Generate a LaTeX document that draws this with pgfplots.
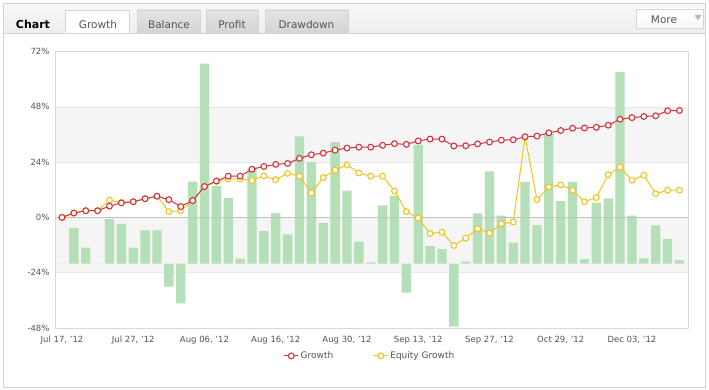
\documentclass[border=0pt]{standalone}
\usepackage{pgfplots}
\pgfplotsset{compat=1.18}
\usepackage{pgfplotstable}
\usepackage{fontspec}
\setmainfont{DejaVu Sans}
\definecolor{barc}{RGB}{181,223,182}
\definecolor{redc}{RGB}{214,48,58}
\definecolor{yelc}{RGB}{240,198,30}
\definecolor{bandc}{RGB}{245,245,245}
\definecolor{gridc}{RGB}{232,232,232}
\definecolor{zeroc}{RGB}{192,192,192}
\definecolor{bordc}{RGB}{218,218,218}
\definecolor{txtc}{RGB}{85,85,85}
\definecolor{framec}{RGB}{212,212,212}
\definecolor{hdrtop}{RGB}{248,248,248}
\definecolor{hdrbot}{RGB}{238,238,238}
\definecolor{tabtop}{RGB}{228,228,228}
\definecolor{tabbot}{RGB}{212,212,212}

\pgfplotstableread{
i bar growth equity
0 0 0 0
1 15.6 1.9 1.9
2 7.0 2.9 2.9
3 0 2.9 2.9
4 19.3 4.9 7.5
5 17.3 6.3 6.5
6 7.0 6.8 6.8
7 14.5 8.1 8.1
8 14.5 9.2 9.2
9 -9.9 7.7 2.5
10 -17.2 4.7 2.9
11 35.6 7.3 7.3
12 86.8 13.4 13.4
13 33.7 15.8 15.6
14 28.5 17.9 16.7
15 2.2 17.9 16.7
16 41.0 20.9 16.0
17 14.1 22.1 18.0
18 22.0 23.0 16.4
19 12.7 23.4 19.1
20 55.3 25.6 17.9
21 44.1 27.2 10.6
22 17.7 27.9 17.3
23 52.8 29.2 20.5
24 31.7 30.1 22.8
25 9.6 30.5 19.3
26 0.6 30.5 17.9
27 25.3 31.3 17.9
28 29.5 32.0 11.5
29 -12.5 31.7 2.5
30 51.6 33.2 -0.3
31 7.6 34.0 -7.0
32 6.3 34.0 -6.4
33 -27.3 31.0 -12.2
34 0.9 31.1 -9.0
35 21.8 31.9 -4.9
36 40.1 32.7 -6.8
37 20.9 33.5 -2.8
38 9.2 33.7 -2.0
39 35.5 35.0 35.0
40 16.7 35.3 7.7
41 56.4 36.7 13.2
42 27.2 37.7 14.1
43 35.5 38.7 11.8
44 2.0 38.8 6.8
45 26.5 39.1 8.6
46 28.4 40.0 18.5
47 83.1 42.6 21.8
48 20.9 43.3 16.1
49 2.3 43.8 18.3
50 16.6 44.1 10.3
51 10.8 46.3 11.8
52 1.6 46.4 11.8
}\datatable

\begin{document}
\begin{tikzpicture}[x=1pt,y=1pt]
\useasboundingbox (0,0) rectangle (709,390);
\fill[white] (0,0) rectangle (709,390);
% header bar
\shade[top color=hdrtop, bottom color=hdrbot] (3.5,357) rectangle (705.5,386.5);
\draw[framec] (3.5,2.5) rectangle (705.5,386.5);
\draw[framec] (3.5,357) -- (705.5,357);
% tabs
\fill[white] (65,357) rectangle (129,380);
\draw[framec] (65,357.5) -- (65,380) -- (129,380) -- (129,357.5);
\fill[white] (65.5,356.5) rectangle (128.5,357.6);
\shade[top color=tabtop, bottom color=tabbot, draw=framec] (137,357) rectangle (200,380);
\shade[top color=tabtop, bottom color=tabbot, draw=framec] (206,357) rectangle (258,380);
\shade[top color=tabtop, bottom color=tabbot, draw=framec] (265,357) rectangle (348,380);
\node[anchor=base, font=\fontsize{11}{13}\selectfont\bfseries, text={RGB:red,68;green,68;blue,68}] at (33,361.7) {Chart};
\node[anchor=base, font=\fontsize{10.5}{12}\selectfont, text=txtc] at (98,361.7) {Growth};
\node[anchor=base, font=\fontsize{10.5}{12}\selectfont, text=txtc] at (169,361.7) {Balance};
\node[anchor=base, font=\fontsize{10.5}{12}\selectfont, text=txtc] at (232,361.7) {Profit};
\node[anchor=base, font=\fontsize{10.5}{12}\selectfont, text=txtc] at (306.5,361.7) {Drawdown};
% More button
\shade[top color=white, bottom color=hdrtop, draw=framec] (636,362) rectangle (703,381);
\node[anchor=base, font=\fontsize{10.5}{12}\selectfont, text=txtc] at (664,366.7) {More};
\fill[gray!55] (694.5,375) -- (701.5,375) -- (698,369.5) -- cycle;
% plot background bands and light grid
\fill[bandc] (55,117.3) rectangle (688,172.6);
\fill[bandc] (55,227.9) rectangle (688,283.2);
\draw[gridc] (55,117.3) -- (688,117.3);
\draw[gridc] (55,227.9) -- (688,227.9);
\draw[gridc] (55,283.2) -- (688,283.2);

% bars axis (baseline at -20.1 % of the main scale)
\begin{axis}[at={(55pt,62pt)}, anchor=south west, scale only axis,
  width=633pt, height=276.5pt,
  xmin=-0.59, xmax=52.72, ymin=-27.9, ymax=92.1,
  hide axis, ybar, bar width=9.3pt]
\addplot[fill=barc, draw=none] table[x=i, y=bar] {\datatable};
\end{axis}

% lines axis
\begin{axis}[at={(55pt,62pt)}, anchor=south west, scale only axis,
  width=633pt, height=276.5pt,
  xmin=-0.59, xmax=52.72, ymin=-48, ymax=72,
  axis line style={draw=bordc, line width=0.8pt},
  major tick length=0pt,
  xtick={0,6,...,48},
  xticklabels={{Jul 17, '12},{Jul 27, '12},{Aug 06, '12},{Aug 16, '12},{Aug 30, '12},{Sep 13, '12},{Sep 27, '12},{Oct 29, '12},{Dec 03, '12}},
  ytick={-48,-24,0,24,48,72},
  yticklabels={-48\%,-24\%,0\%,24\%,48\%,72\%},
  tick label style={font=\fontsize{8.5}{10}\selectfont, text=txtc},
  xticklabel style={anchor=base, yshift=-14.4pt},
  yticklabel style={anchor=east, xshift=-2pt},
  extra y ticks={0}, extra y tick labels={},
  extra y tick style={grid=major, major grid style={draw=zeroc, line width=1.6pt}},
  legend style={at={(0.4976,-0.101)}, anchor=center, draw=none, fill=none,
    font=\fontsize{9}{11}\selectfont, text=txtc, legend columns=2,
    /tikz/every even column/.append style={column sep=38pt}},
  legend image code/.code={\draw[mark repeat=2,mark phase=2,#1] plot coordinates {(0pt,0pt) (7pt,0pt) (14pt,0pt)};},
  clip=false]
\addplot[yelc, line width=1pt, mark=*, mark size=2.9pt,
  mark options={fill=white, draw=yelc, line width=1.1pt}, forget plot]
  table[x=i, y=equity] {\datatable};
\addplot[redc, line width=1pt, mark=*, mark size=2.9pt,
  mark options={fill=white, draw=redc, line width=1.1pt}]
  table[x=i, y=growth] {\datatable};
\addlegendentry{Growth}
\addlegendimage{yelc, line width=1pt, mark=*, mark size=2.9pt, mark options={fill=white, draw=yelc, line width=1.1pt}}
\addlegendentry{Equity Growth}
\end{axis}
\end{tikzpicture}
\end{document}
